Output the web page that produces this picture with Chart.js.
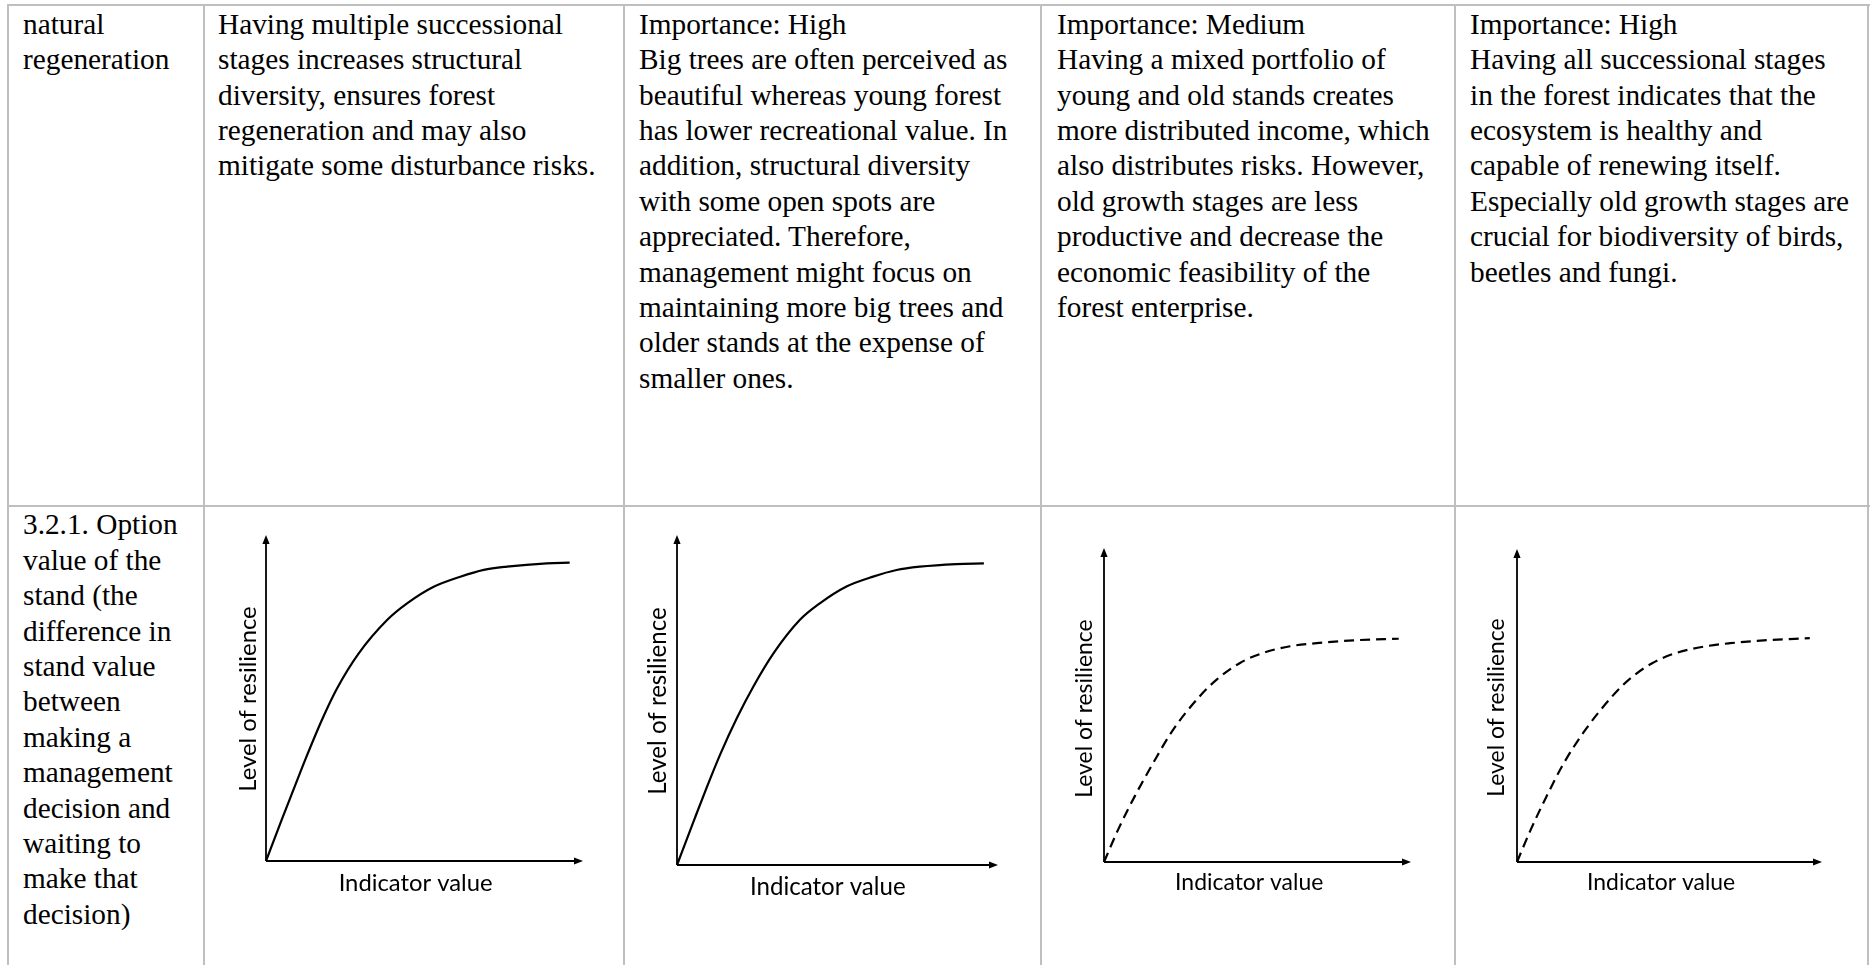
<!DOCTYPE html>
<html>
<head>
<meta charset="utf-8">
<script src="https://cdn.jsdelivr.net/npm/chart.js@4.4.1/dist/chart.umd.min.js"></script>
<style>
  html, body { margin: 0; padding: 0; background: #fff; width: 1870px; height: 965px; overflow: hidden; }
  .vl { position: absolute; width: 2px; background: #bfbfbf; }
  .hl { position: absolute; height: 2px; background: #bfbfbf; }
  .cell { position: absolute; font-family: 'Liberation Serif', 'Times New Roman', serif; font-size: 29.3px; line-height: 35.4px; color: #000; white-space: nowrap; }
  canvas.ch { position: absolute; }
</style>
</head>
<body>
<script>
// ---------------- DATA ----------------
const xAxisLabel = "Indicator value";
const yAxisLabel = "Level of resilience";

// Curves (percent of axis length)
const curveAX = [0, 5.0, 9.2, 12.9, 17.7, 22.4, 29.2, 38.2, 44.5, 52.9, 61.3, 68.7, 76.0, 88.6, 95.8];
const curveAY = [0, 12.8, 23.2, 32.3, 43.4, 52.9, 63.6, 73.9, 79.0, 84.1, 87.2, 89.3, 90.3, 91.3, 91.5];
const curveBX = [0, 5.2, 9.3, 13.5, 18.7, 23.8, 30.1, 38.3, 44.5, 52.8, 61.1, 68.4, 75.6, 87.0, 95.6];
const curveBY = [0, 13.3, 23.6, 33.6, 44.6, 54.1, 64.2, 74.3, 79.3, 84.4, 87.4, 89.4, 90.4, 91.2, 91.4];
const curveCX = [0, 4.6, 10.0, 16.0, 22.5, 31.2, 36.7, 44.3, 51.9, 60.6, 69.3, 81.3, 96.0];
const curveCY = [0, 10.3, 20.9, 31.5, 42.1, 52.8, 58.1, 63.4, 66.6, 68.7, 69.7, 70.6, 71.1];
const curveDX = [0, 4.4, 9.6, 15.3, 22.4, 31.1, 36.6, 44.3, 51.9, 61.2, 69.9, 80.9, 96.0];
const curveDY = [0, 10.1, 20.8, 31.5, 42.2, 52.8, 58.2, 63.5, 66.7, 68.8, 69.9, 70.8, 71.5];
const curveDashed = [false, false, true, true];

// Table texts
const row1Col1 = ["natural", "regeneration"];
const row1Col2 = ["Having multiple successional", "stages increases structural", "diversity, ensures forest", "regeneration and may also", "mitigate some disturbance risks."];
const row1Col3 = ["Importance: High", "Big trees are often perceived as", "beautiful whereas young forest", "has lower recreational value. In", "addition, structural diversity", "with some open spots are", "appreciated. Therefore,", "management might focus on", "maintaining more big trees and", "older stands at the expense of", "smaller ones."];
const row1Col4 = ["Importance: Medium", "Having a mixed portfolio of", "young and old stands creates", "more distributed income, which", "also distributes risks. However,", "old growth stages are less", "productive and decrease the", "economic feasibility of the", "forest enterprise."];
const row1Col5 = ["Importance: High", "Having all successional stages", "in the forest indicates that the", "ecosystem is healthy and", "capable of renewing itself.", "Especially old growth stages are", "crucial for biodiversity of birds,", "beetles and fungi."];
const row2Col1 = ["3.2.1. Option", "value of the", "stand (the", "difference in", "stand value", "between", "making a", "management", "decision and", "waiting to", "make that", "decision)"];

// ---------------- LAYOUT ----------------
const colLines = [8, 204, 624, 1041, 1455, 1868];
const rowLines = [4.5, 505.7];
const textLeft = [23, 218, 639, 1057, 1470];
const rowTextTop = [6.8, 507.4];

function addDiv(cls, styles, html) {
  const d = document.createElement('div');
  d.className = cls;
  Object.assign(d.style, styles);
  if (html !== undefined) d.innerHTML = html;
  document.body.appendChild(d);
  return d;
}
function esc(s) { return s.replace(/&/g, '&amp;').replace(/</g, '&lt;'); }

colLines.forEach(x => addDiv('vl', { left: (x - 1) + 'px', top: '3.5px', height: '970px' }));
rowLines.forEach(y => addDiv('hl', { left: '7px', width: '1863px', top: (y - 1) + 'px' }));

[row1Col1, row1Col2, row1Col3, row1Col4, row1Col5].forEach((lines, i) => {
  addDiv('cell', { left: textLeft[i] + 'px', top: rowTextTop[0] + 'px' }, lines.map(esc).join('<br>'));
});
addDiv('cell', { left: textLeft[0] + 'px', top: rowTextTop[1] + 'px' }, row2Col1.map(esc).join('<br>'));

// chart boxes: axis origin / arrow tips (layout only)
const chartBoxes = [
  { L: 266, T: 535, R: 583, B: 861, lw: 154,   yBase: -9.7,  yMid: 1,   xBase: 30,   xMid: -8.9 },
  { L: 677, T: 535, R: 998, B: 865, lw: 155.7, yBase: -10.7, yMid: 1,   xBase: 30,   xMid: -9.7 },
  { L: 1104, T: 548, R: 1411, B: 862, lw: 148.3, yBase: -12, yMid: 3.5, xBase: 27.7, xMid: -8.3 },
  { L: 1517, T: 549, R: 1822, B: 862, lw: 148.3, yBase: -13.4, yMid: 2, xBase: 27.6, xMid: -8.4 }
];
const curvesX = [curveAX, curveBX, curveCX, curveDX];
const curvesY = [curveAY, curveBY, curveCY, curveDY];
const PL = 50, PT = 12, PR = 12, PB = 45;
const labelFont = "Lato, 'Noto Sans', sans-serif";

const axesPlugin = {
  id: 'arrowAxes',
  afterDatasetsDraw(chart, args, opts) {
    const ctx = chart.ctx;
    const sx = chart.scales.x, sy = chart.scales.y;
    const x0 = sx.getPixelForValue(0), x1 = sx.getPixelForValue(100);
    const y0 = sy.getPixelForValue(0), y1 = sy.getPixelForValue(100);
    const al = 9, aw = 3.6;
    ctx.save();
    ctx.strokeStyle = '#000';
    ctx.fillStyle = '#000';
    ctx.lineWidth = 1.8;
    ctx.setLineDash([]);
    ctx.beginPath();
    ctx.moveTo(x0, y0); ctx.lineTo(x1 - al + 1, y0);
    ctx.moveTo(x0, y0); ctx.lineTo(x0, y1 + al - 1);
    ctx.stroke();
    ctx.beginPath();
    ctx.moveTo(x1, y0); ctx.lineTo(x1 - al, y0 - aw); ctx.lineTo(x1 - al, y0 + aw); ctx.closePath();
    ctx.fill();
    ctx.beginPath();
    ctx.moveTo(x0, y1); ctx.lineTo(x0 - aw, y1 + al); ctx.lineTo(x0 + aw, y1 + al); ctx.closePath();
    ctx.fill();

    // axis titles
    ctx.font = '100px ' + labelFont;
    const w100 = ctx.measureText(xAxisLabel).width;
    const fs = opts.lw / w100 * 100;
    ctx.font = fs + 'px ' + labelFont;
    ctx.textAlign = 'center';
    ctx.textBaseline = 'alphabetic';
    ctx.fillText(xAxisLabel, (x0 + x1) / 2 + opts.xMid, y0 + opts.xBase);
    ctx.translate(x0 + opts.yBase, (y0 + y1) / 2 + opts.yMid);
    ctx.rotate(-Math.PI / 2);
    ctx.fillText(yAxisLabel, 0, 0);
    ctx.restore();
  }
};

function build() {
  chartBoxes.forEach((b, i) => {
    const c = document.createElement('canvas');
    c.className = 'ch';
    const w = b.R - b.L + PL + PR, h = b.B - b.T + PT + PB;
    c.width = w; c.height = h;
    c.style.width = w + 'px'; c.style.height = h + 'px';
    c.style.left = (b.L - PL) + 'px';
    c.style.top = (b.T - PT) + 'px';
    document.body.appendChild(c);
    const xs = curvesX[i], ys = curvesY[i];
    new Chart(c, {
      type: 'line',
      data: {
        datasets: [{
          data: xs.map((x, k) => ({ x: x, y: ys[k] })),
          borderColor: '#000',
          borderWidth: 2.2,
          borderDash: curveDashed[i] ? [10, 6] : [],
          pointRadius: 0,
          cubicInterpolationMode: 'monotone',
          fill: false,
          clip: false
        }]
      },
      options: {
        responsive: false,
        animation: false,
        events: [],
        layout: { padding: { left: PL, top: PT, right: PR, bottom: PB } },
        scales: {
          x: { type: 'linear', min: 0, max: 100, display: false },
          y: { type: 'linear', min: 0, max: 100, display: false }
        },
        plugins: {
          legend: { display: false },
          tooltip: { enabled: false },
          arrowAxes: b
        }
      },
      plugins: [axesPlugin]
    });
  });
}
if (document.fonts && document.fonts.load) {
  document.fonts.load('24px Lato').then(build, build);
} else { build(); }
</script>
</body>
</html>
